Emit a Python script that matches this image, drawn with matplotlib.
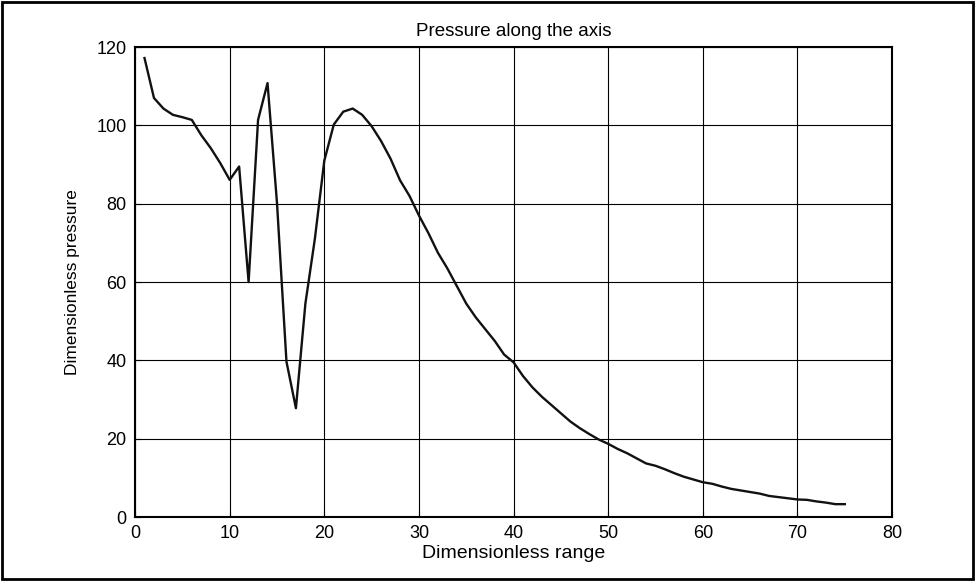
import matplotlib
matplotlib.use("Agg")
import matplotlib.pyplot as plt
from matplotlib.patches import Rectangle

# Dimensionless range (x) and dimensionless pressure (y)
x = list(range(1, 76))
pressure = [
    117.2, 107.0, 104.3, 102.7, 102.1, 101.4, 97.5, 94.2, 90.4, 86.1,
    89.5, 60.0, 101.4, 110.8, 80.2, 39.7, 27.8, 54.5, 71.0, 91.0,
    100.2, 103.5, 104.3, 102.7, 99.8, 96.0, 91.5, 86.0, 82.0, 77.0,
    72.5, 67.5, 63.5, 59.0, 54.5, 51.0, 48.0, 45.0, 41.5, 39.5,
    36.0, 33.1, 30.7, 28.6, 26.5, 24.4, 22.7, 21.2, 19.8, 18.7,
    17.4, 16.3, 15.0, 13.7, 13.1, 12.2, 11.2, 10.3, 9.6, 8.9,
    8.5, 7.8, 7.2, 6.8, 6.4, 6.0, 5.4, 5.1, 4.8, 4.5,
    4.4, 4.0, 3.7, 3.3, 3.3,
]
xticks = [0, 10, 20, 30, 40, 50, 60, 70, 80]
yticks = [0, 20, 40, 60, 80, 100, 120]

plt.rcParams['font.family'] = ['Liberation Sans', 'DejaVu Sans']

fig = plt.figure(figsize=(9.75, 5.81), dpi=100)
ax = fig.add_axes([0.1385, 0.110, 0.7765, 0.809])

ax.plot(x, pressure, color='#111111', linewidth=1.7)

ax.set_xlim(0, 80)
ax.set_ylim(0, 120)
ax.set_xticks(xticks)
ax.set_yticks(yticks)
ax.grid(True, color='black', linewidth=0.8, linestyle='-')
ax.tick_params(direction='in', length=4, width=0.8, labelsize=13, pad=6)
for s in ax.spines.values():
    s.set_linewidth(1.5)

ax.set_title("Pressure along the axis", fontsize=13.5, pad=8)
ax.set_xlabel("Dimensionless range", fontsize=14, labelpad=1.5)
ax.set_ylabel("Dimensionless pressure", fontsize=12.5, labelpad=12)

# frame around the whole picture
fig.patches.append(Rectangle((0.002, 0.003), 0.996, 0.994, transform=fig.transFigure,
                             fill=False, edgecolor='black', linewidth=2))

fig.savefig("out.png", dpi=100)
